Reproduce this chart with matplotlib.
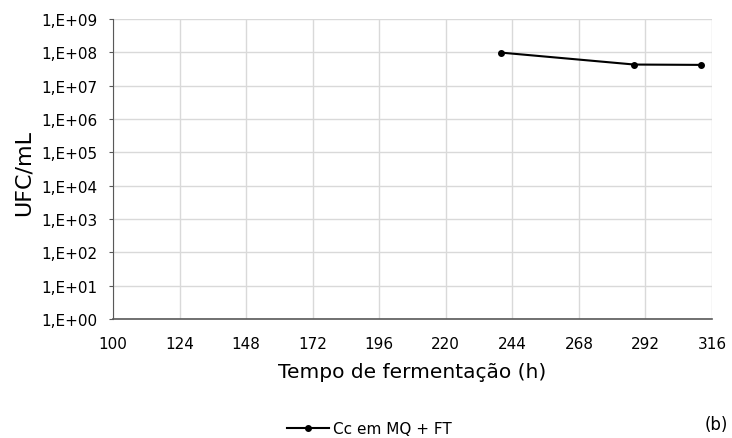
import numpy as np
import matplotlib
matplotlib.use('Agg')
import matplotlib.pyplot as plt
from matplotlib.ticker import FixedLocator

plt.rcParams['font.family'] = ['DejaVu Sans']

# data
tempo = [240, 288, 312]
ufc = [9.8e7, 4.3e7, 4.2e7]
serie = 'Cc em MQ + FT'
xticks_v = [100, 124, 148, 172, 196, 220, 244, 268, 292, 316]
ytick_exp = list(range(0, 10))

W, H = 732, 439
fig = plt.figure(figsize=(W/100, H/100), dpi=100)
ax = fig.add_axes([113/W, 1-320/H, (712-113)/W, 300/H])

ax.plot(tempo, ufc, color='black', linewidth=1.5, marker='o', markersize=4, label=serie)

ax.set_yscale('log')
ax.set_ylim(1, 1e9)
ax.set_xlim(100, 316)
ax.yaxis.set_major_locator(FixedLocator([10.0**e for e in ytick_exp]))
ax.yaxis.set_minor_locator(FixedLocator([]))
ax.set_yticklabels(['1,E+%02d' % e for e in ytick_exp])
ax.set_xticks(xticks_v)

ax.grid(True, color='#d9d9d9', linewidth=1)
ax.set_axisbelow(True)
for s in ['top', 'right']:
    ax.spines[s].set_visible(False)
ax.spines['left'].set_color('#595959')
ax.spines['bottom'].set_color('#595959')
ax.spines['bottom'].set_linewidth(1.2)
ax.tick_params(axis='x', length=0, labelsize=11, colors='black', pad=12)
ax.tick_params(axis='y', length=3, color='#595959', labelsize=11, pad=8)

ax.set_ylabel('UFC/mL', fontsize=16)
ax.yaxis.set_label_coords(34/W, 1-173/H, transform=fig.transFigure)
ax.set_xlabel('Tempo de fermentação (h)', fontsize=14.5)
ax.xaxis.set_label_coords(412/W, 1-363/H, transform=fig.transFigure)

ax.legend(loc='center', bbox_to_anchor=(369/W, 1-430/H), bbox_transform=fig.transFigure,
          frameon=False, fontsize=11, handlelength=2.8, handletextpad=0.2)
fig.text(716/W, 1-425/H, '(b)', fontsize=12, ha='center', va='center')

fig.savefig('out.png', dpi=100)
